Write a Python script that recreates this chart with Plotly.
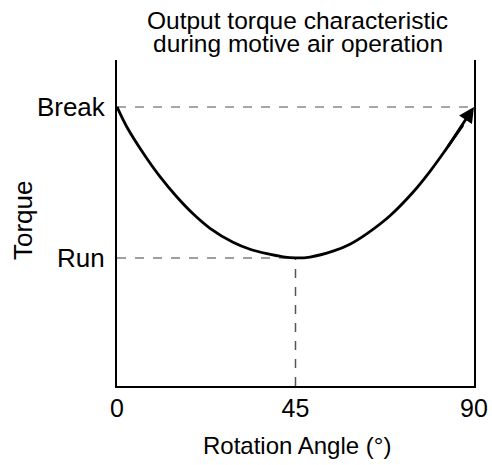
import plotly.graph_objects as go

# Data
angles = [0, 2.45, 6.63, 10.84, 15.05, 19.24, 23.45, 29.24, 33.53, 37.82, 41.85, 45,
          48.66, 54.45, 58.74, 63.03, 68.82, 74.62, 78.91, 83.19, 87.23, 90]
torque = [1.0, 0.929, 0.834, 0.750, 0.678, 0.616, 0.565, 0.515, 0.490, 0.474, 0.463, 0.459,
          0.462, 0.483, 0.508, 0.546, 0.610, 0.694, 0.769, 0.853, 0.935, 1.0]
break_val = 1.0
run_val = 0.459
run_angle = 45
x_ticks = [0, 45, 90]
y_ticks = [run_val, break_val]
y_ticktext = ["Run", "Break"]
y_top = 1.168

title_lines = ["Output torque characteristic", "during motive air operation"]
x_title = "Rotation Angle (°)"
y_title = "Torque"

font = "Liberation Sans, Arial, sans-serif"

fig = go.Figure()

# dashed guide lines
fig.add_trace(go.Scatter(x=[x_ticks[0], x_ticks[-1]], y=[break_val, break_val], mode="lines",
                         line=dict(color="#8a8a8a", width=1.5, dash="dash"), hoverinfo="skip"))
fig.add_trace(go.Scatter(x=[x_ticks[0], run_angle], y=[run_val, run_val], mode="lines",
                         line=dict(color="#808080", width=1.5, dash="dash"), hoverinfo="skip"))
fig.add_trace(go.Scatter(x=[run_angle, run_angle], y=[0, run_val], mode="lines",
                         line=dict(color="#555555", width=1.5, dash="dash"), hoverinfo="skip"))

# curve
fig.add_trace(go.Scatter(x=angles[:-1], y=torque[:-1], mode="lines",
                         line=dict(color="black", width=2.8, shape="spline", smoothing=1.0),
                         hoverinfo="skip"))
# arrow head
fig.add_annotation(x=angles[-1], y=torque[-1], ax=angles[-3], ay=torque[-3], axref="x", ayref="y",
                   xref="x", yref="y", text="", showarrow=True, arrowhead=2, arrowsize=1.1,
                   arrowwidth=2.8, arrowcolor="black", font=dict(size=1))

# right axis line
fig.add_trace(go.Scatter(x=[None], y=[None], yaxis="y2", showlegend=False))

# title lines
fig.add_annotation(text=title_lines[0], xref="paper", yref="paper", x=0.507, y=(386 - 20) / 326,
                   xanchor="center", yanchor="middle", showarrow=False,
                   font=dict(size=24.5, family=font, color="black"))
fig.add_annotation(text=title_lines[1], xref="paper", yref="paper", x=0.507, y=(386 - 43) / 326,
                   xanchor="center", yanchor="middle", showarrow=False,
                   font=dict(size=24.5, family=font, color="black"))
# axis titles
fig.add_annotation(text=x_title, xref="paper", yref="paper", x=0.505, y=(386 - 445) / 326,
                   xanchor="center", yanchor="middle", showarrow=False,
                   font=dict(size=24, family=font, color="black"))
fig.add_annotation(text=y_title, xref="paper", yref="paper", x=-0.2633, y=0.509,
                   xanchor="center", yanchor="middle", showarrow=False, textangle=-90,
                   font=dict(size=26, family=font, color="black"))

fig.update_layout(
    width=492, height=465,
    margin=dict(l=117, r=18, t=60, b=79, autoexpand=False),
    paper_bgcolor="white", plot_bgcolor="white",
    showlegend=False,
    font=dict(family=font, color="black"),
    xaxis=dict(range=[0, 90], tickvals=x_ticks, ticktext=[str(v) for v in x_ticks],
               showgrid=False, zeroline=False, showline=True, linecolor="black", linewidth=2,
               ticks="", ticklabelstandoff=-1, tickfont=dict(size=25), automargin=False),
    yaxis=dict(range=[0, y_top], tickvals=y_ticks, ticktext=y_ticktext,
               showgrid=False, zeroline=False, showline=True, linecolor="black", linewidth=2,
               ticks="", ticklabelstandoff=5, tickfont=dict(size=26), automargin=False),
    yaxis2=dict(range=[0, y_top], overlaying="y", side="right", showline=True, linecolor="black",
                linewidth=2, showticklabels=False, showgrid=False, zeroline=False, ticks="",
                automargin=False),
)

fig.write_html("out.html", config={"displayModeBar": False},
               post_script="document.body.style.margin='0';document.body.style.overflow='hidden';")
